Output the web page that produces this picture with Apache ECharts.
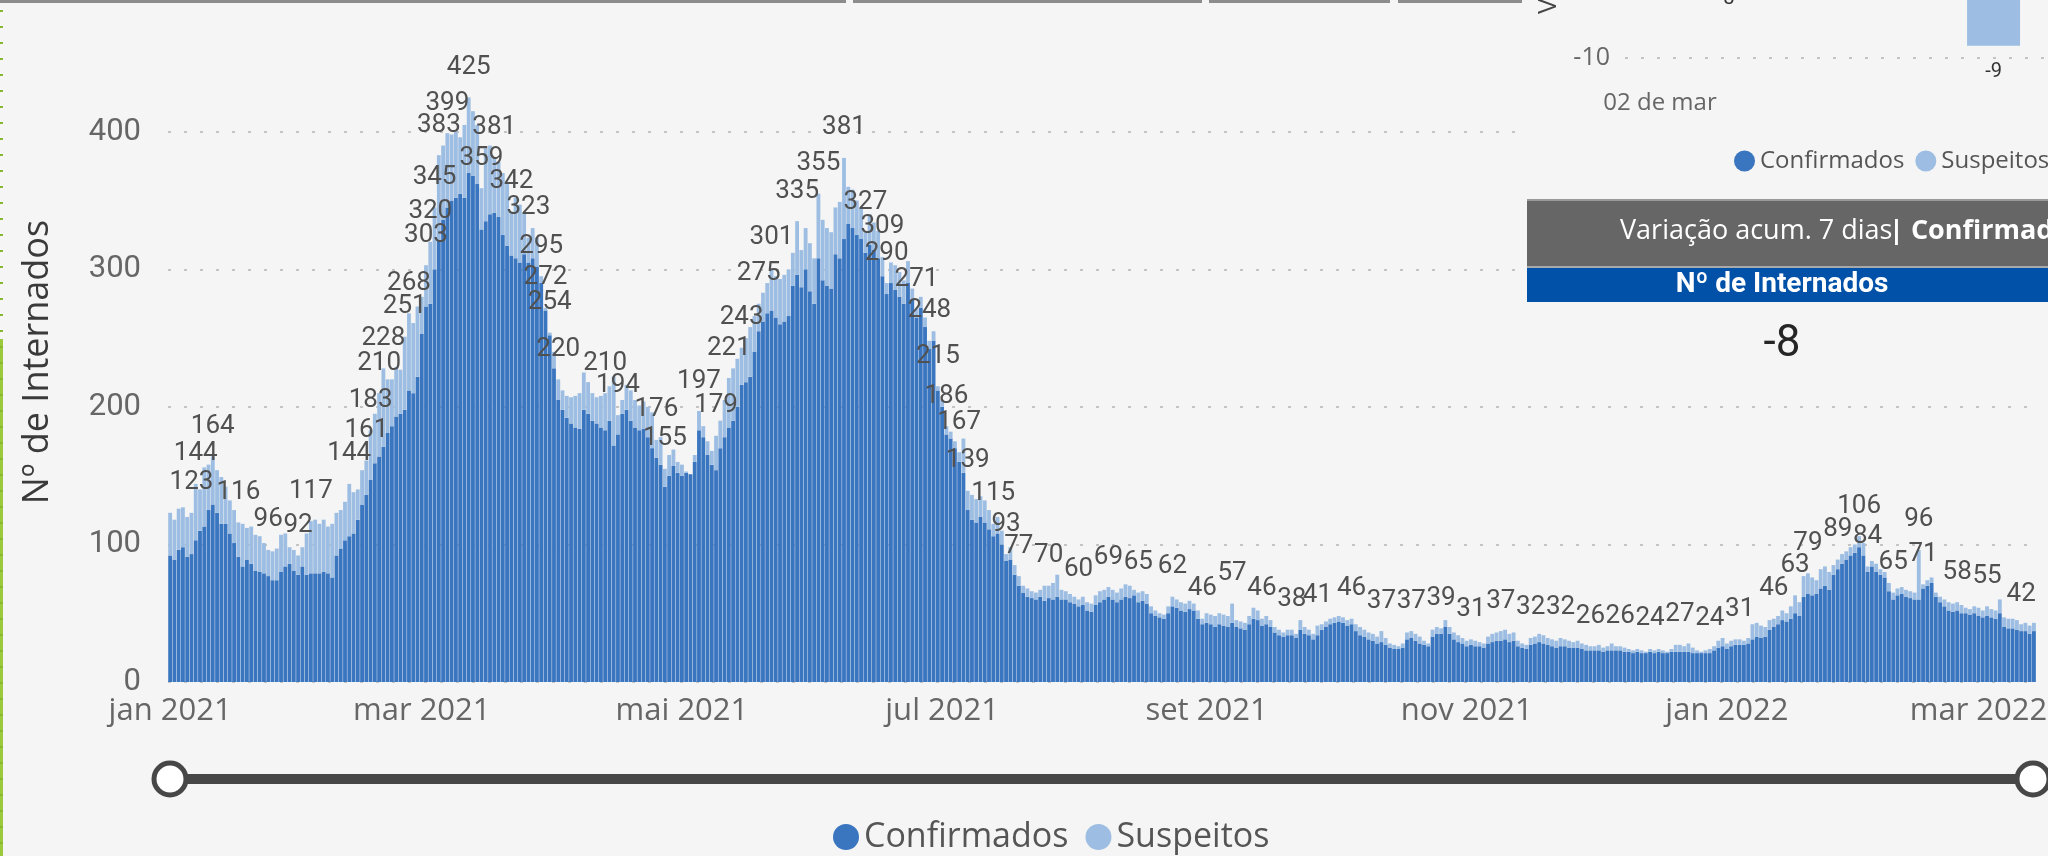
<!DOCTYPE html>
<html>
<head>
<meta charset="utf-8">
<script src="https://cdn.jsdelivr.net/npm/echarts@6.0.0/dist/echarts.min.js"></script>
<style>
  html, body { margin: 0; padding: 0; background: #f5f5f5; }
  #chart { width: 2048px; height: 856px; }
</style>
</head>
<body>
<div id="chart"></div>
<script>
// ---------------- DATA ----------------
const startDate = '2021-01-01';

// Total de internados por dia (Confirmados + Suspeitos)
const internados = [
  123,118,126,127,120,123,144,140,156,158,
  164,154,149,142,132,125,116,115,112,113,
  107,106,101,96,95,97,107,108,98,96,
  92,98,108,117,118,115,118,113,115,123,
  125,131,144,138,140,154,161,183,195,210,
  228,220,220,229,227,251,268,261,273,280,
  303,320,345,383,390,399,398,400,396,405,
  425,415,405,359,388,390,381,378,370,362,
  342,352,347,341,323,330,323,295,272,254,
  240,220,212,208,207,208,210,225,218,210,
  207,208,210,215,222,194,205,216,212,205,
  201,204,200,196,176,178,155,165,169,160,
  158,153,151,165,197,186,175,168,179,190,
  205,221,228,235,243,250,258,266,275,283,
  290,301,295,293,296,300,312,335,314,330,
  319,308,355,336,330,327,345,349,381,360,
  358,350,345,327,340,334,328,309,290,305,
  303,298,292,306,286,271,280,265,248,255,
  215,205,186,182,175,167,177,139,136,133,
  135,132,125,115,120,110,93,98,85,77,
  70,68,66,65,67,70,70,72,78,67,
  66,64,62,60,62,58,57,63,66,67,
  69,67,65,68,71,70,67,65,66,64,
  55,52,50,49,55,62,60,58,57,59,
  57,52,46,50,49,48,50,49,48,57,
  45,44,43,48,54,52,46,48,45,40,
  38,36,38,38,35,45,40,38,35,41,
  42,44,46,47,48,47,45,46,42,40,
  38,36,35,33,37,32,28,27,26,28,
  36,37,35,33,30,28,38,40,39,45,
  40,36,34,32,30,31,30,29,28,33,
  35,36,37,38,35,36,30,28,27,32,
  33,35,34,32,31,30,32,31,30,29,
  30,28,27,26,26,27,25,26,28,26,
  26,25,24,23,24,23,22,24,23,24,
  23,22,24,27,27,26,28,25,23,22,
  23,24,26,30,32,28,30,31,31,30,
  32,42,43,41,40,45,46,48,52,50,
  55,63,58,77,79,76,74,82,84,80,
  85,89,93,95,98,100,106,101,84,88,
  86,82,80,72,65,68,69,67,66,65,
  96,71,74,76,65,62,60,58,57,58,
  56,54,53,55,54,52,55,53,52,60,
  47,46,46,45,42,43,41,43
];

// Confirmados por dia
const confirmados = [
  92,89,96,98,91,93,103,110,113,125,
  129,123,115,115,108,101,91,84,89,86,
  81,80,79,77,74,74,80,84,86,81,
  78,84,78,79,79,79,80,79,76,92,
  97,103,106,108,118,129,136,147,159,164,
  171,181,186,193,195,198,212,210,222,253,
  273,275,300,321,336,345,350,352,355,352,
  370,368,362,329,335,340,341,338,325,317,
  310,308,305,311,305,308,302,290,270,252,
  228,205,198,192,188,185,184,198,195,190,
  188,185,183,190,172,180,195,198,190,185,
  183,184,178,170,163,158,142,150,157,152,
  150,152,151,160,183,178,165,158,154,170,
  178,185,190,200,216,218,222,240,255,262,
  268,270,265,260,262,266,288,296,287,300,
  284,275,308,292,288,286,311,308,322,333,
  330,325,322,312,318,314,308,295,282,290,
  285,280,275,290,278,265,272,258,242,248,
  212,200,180,177,170,160,152,125,118,116,
  120,116,111,106,108,100,88,89,78,70,
  65,62,61,60,62,59,61,60,62,60,
  60,58,57,55,56,52,51,56,58,60,
  62,60,58,60,62,61,63,58,59,57,
  50,48,47,46,50,55,54,52,51,53,
  52,46,42,43,42,40,42,41,40,43,
  40,39,38,42,46,45,41,42,40,36,
  34,33,34,34,32,38,35,34,31,34,
  38,40,42,43,44,43,41,42,37,34,
  33,31,30,28,29,27,25,24,24,25,
  31,32,30,28,27,26,33,35,35,40,
  35,31,29,28,26,27,26,26,25,28,
  29,30,30,31,29,30,26,25,24,27,
  28,29,28,27,26,25,26,26,25,25,
  25,24,23,23,23,23,22,23,23,23,
  23,22,22,21,22,21,21,22,21,22,
  21,21,22,22,22,22,22,21,21,21,
  21,21,23,25,26,24,26,27,27,27,
  28,31,33,32,33,38,40,42,45,44,
  46,50,48,62,64,63,64,68,70,67,
  78,82,86,89,92,94,98,92,80,84,
  80,78,76,66,60,63,64,62,61,60,
  60,68,70,72,62,58,55,52,51,52,
  50,50,49,50,48,47,48,47,46,50,
  40,39,39,38,37,37,35,37
];

// Dias (índice desde startDate) com rótulo de total visível
const labelDays = [5,6,10,16,23,30,33,42,46,47,49,50,55,56,60,61,62,63,65,70,73,76,80,84,87,88,89,91,
  102,105,114,116,124,128,131,134,138,141,147,152,158,163,167,168,175,178,180,182,185,187,193,196,199,
  206,213,220,227,235,242,249,256,263,269,277,284,291,298,305,312,319,326,333,340,347,354,361,368,
  376,381,384,391,396,398,404,410,411,419,426,434];

// Rótulos do eixo X
const tickDates  = ['2021-01-01','2021-03-01','2021-05-01','2021-07-01','2021-09-01','2021-11-01','2022-01-01','2022-03-01'];
const tickLabels = ['jan 2021','mar 2021','mai 2021','jul 2021','set 2021','nov 2021','jan 2022','mar 2022'];
const yTicks = { min: 0, max: 450, interval: 100 };

// Painel: variação acumulada 7 dias
const varCategories = ['02 de mar'];
const varConfirmados = [-3];
const varSuspeitos = [-9];
const varTotal = -8;
const seriesNames = ['Confirmados', 'Suspeitos'];

// ---------------- BUILD ----------------
const t0 = Date.UTC(2021, 0, 1);
const categories = internados.map((_, i) => new Date(t0 + i * 86400000).toISOString().slice(0, 10));
const suspeitos = internados.map((t, i) => Math.max(0, t - confirmados[i]));
const labelSet = new Set(labelDays);
const suspeitosData = suspeitos.map((v, i) => labelSet.has(i) ? { value: v, label: { show: true } } : v);

const C_DARK = '#3A75C0';
const C_LIGHT = '#9DBEE2';
const GRID_LEFT = 168, GRID_TOP = 63, GRID_H = 619, DAY_W = 4.265;

const chart = echarts.init(document.getElementById('chart'), null, { renderer: 'canvas' });

const option = {
  animation: false,
  backgroundColor: '#f5f5f5',
  grid: [
    { left: GRID_LEFT, top: GRID_TOP, width: DAY_W * internados.length, height: GRID_H, outerBoundsMode: 'none', containLabel: false },
    { left: 1625, top: -64, width: 470, height: 122, outerBoundsMode: 'none', containLabel: false }
  ],
  xAxis: [
    {
      type: 'category', gridIndex: 0, data: categories, boundaryGap: true,
      axisLine: { show: false }, axisTick: { show: false },
      axisLabel: {
        interval: (idx, val) => tickDates.indexOf(val) >= 0,
        formatter: (val) => { const k = tickDates.indexOf(val); return k >= 0 ? tickLabels[k] : ''; },
        fontFamily: 'Open Sans', fontSize: 31, color: '#666666', margin: 14
      },
      splitLine: { show: false }
    },
    {
      type: 'category', gridIndex: 1, data: varCategories, z: 60,
      axisLine: { show: false }, axisTick: { show: false }, axisLabel: { show: false }
    }
  ],
  yAxis: [
    {
      type: 'value', gridIndex: 0, min: yTicks.min, max: yTicks.max, interval: yTicks.interval,
      axisLine: { show: false }, axisTick: { show: false },
      axisLabel: { fontFamily: 'Roboto', fontSize: 31, color: '#666666', margin: 27, showMaxLabel: false },
      splitLine: { show: true, showMaxLine: false, lineStyle: { type: [3, 13], color: '#c4c4c4', width: 2 } }
    },
    {
      type: 'value', gridIndex: 1, min: -10, max: 0, interval: 10, z: 60,
      axisLine: { show: false }, axisTick: { show: false },
      axisLabel: { fontFamily: 'Open Sans', fontSize: 25, color: '#666666', margin: 15,
        formatter: (v) => v === -10 ? '-10' : '' },
      splitLine: { show: true, lineStyle: { type: [3, 13], color: '#c4c4c4', width: 2 } }
    }
  ],
  legend: [
    {
      data: seriesNames, left: 833, top: 820, padding: 0, itemGap: 17, orient: 'horizontal', width: 700,
      itemWidth: 26, itemHeight: 26, icon: 'circle',
      textStyle: { fontFamily: 'Open Sans', fontSize: 34, color: '#555555' }
    },
    {
      data: seriesNames, left: 1734, top: 149, padding: 0, itemGap: 11, z: 60, orient: 'horizontal', width: 600,
      itemWidth: 21, itemHeight: 21, icon: 'circle',
      textStyle: { fontFamily: 'Open Sans', fontSize: 24, color: '#555555' }
    }
  ],
  series: [
    {
      name: seriesNames[0], type: 'bar', stack: 'tot', xAxisIndex: 0, yAxisIndex: 0,
      data: confirmados, barCategoryGap: '10%', itemStyle: { color: C_DARK }, silent: true
    },
    {
      name: seriesNames[1], type: 'bar', stack: 'tot', xAxisIndex: 0, yAxisIndex: 0,
      data: suspeitosData, barCategoryGap: '10%', itemStyle: { color: C_LIGHT }, silent: true,
      label: {
        show: false, position: 'top', distance: 17,
        formatter: (p) => String(internados[p.dataIndex]),
        fontFamily: 'Roboto', fontSize: 26, color: '#505050'
      },
      labelLayout: { hideOverlap: false }
    },
    {
      name: seriesNames[0], type: 'bar', xAxisIndex: 1, yAxisIndex: 1, z: 60,
      data: varConfirmados, barWidth: 53, barGap: '404%', itemStyle: { color: C_DARK },
      label: { show: true, position: 'bottom', distance: 16, fontFamily: 'Roboto', fontSize: 20, color: '#333333' }
    },
    {
      name: seriesNames[1], type: 'bar', xAxisIndex: 1, yAxisIndex: 1, z: 60,
      data: varSuspeitos, barWidth: 53, barGap: '404%', itemStyle: { color: C_LIGHT },
      label: { show: true, position: 'bottom', distance: 16, fontFamily: 'Roboto', fontSize: 20, color: '#333333' }
    }
  ],
  graphic: { elements: [
    // top tab borders
    { type: 'rect', shape: { x: 0, y: 0, width: 846, height: 3 }, style: { fill: '#8c8c8c' }, z: 40 },
    { type: 'rect', shape: { x: 853, y: 0, width: 349, height: 3 }, style: { fill: '#8c8c8c' }, z: 40 },
    { type: 'rect', shape: { x: 1209, y: 0, width: 181, height: 3 }, style: { fill: '#8c8c8c' }, z: 40 },
    { type: 'rect', shape: { x: 1398, y: 0, width: 129, height: 3 }, style: { fill: '#8c8c8c' }, z: 40 },
    // left green border
    { type: 'rect', shape: { x: 0, y: 339, width: 3, height: 517 }, style: { fill: '#9BCB3C' }, z: 40 },
    { type: 'line', shape: { x1: 1.5, y1: 10, x2: 1.5, y2: 856 }, style: { stroke: '#86B832', lineWidth: 3, lineDash: [2, 14] }, z: 41 },
    // y axis title
    { type: 'text', x: 38, y: 362, rotation: Math.PI / 2, z: 40,
      style: { text: 'Nº de Internados', font: '36px "Open Sans"', fill: '#3a3a3a', textAlign: 'center', textVerticalAlign: 'middle', align: 'center', verticalAlign: 'middle' } },
    // range slider
    { type: 'line', shape: { x1: 170, y1: 779, x2: 2033, y2: 779 }, style: { stroke: '#474747', lineWidth: 10 }, z: 40 },
    { type: 'circle', shape: { cx: 170, cy: 779, r: 16 }, style: { fill: '#ffffff', stroke: '#474747', lineWidth: 5 }, z: 41 },
    { type: 'circle', shape: { cx: 2033, cy: 779, r: 16 }, style: { fill: '#ffffff', stroke: '#474747', lineWidth: 5 }, z: 41 },
    // right panel cover
    { type: 'rect', shape: { x: 1522, y: 0, width: 526, height: 385 }, style: { fill: '#f5f5f5' }, z: 50 },
    { type: 'text', x: 1549, y: 14, rotation: Math.PI / 2, z: 70,
      style: { text: 'Variação acum. 7 dias', font: '26px "Open Sans"', fill: '#444444', textAlign: 'left', textVerticalAlign: 'middle', align: 'left', verticalAlign: 'middle' } },
    { type: 'text', x: 1660, y: 103, z: 70,
      style: { text: varCategories[0], font: '24px "Open Sans"', fill: '#666666', textAlign: 'center', textVerticalAlign: 'middle', align: 'center', verticalAlign: 'middle' } },
    { type: 'rect', shape: { x: 1527, y: 200, width: 521, height: 67 }, style: { fill: '#666666' }, z: 70 },
    { type: 'rect', shape: { x: 1527, y: 199, width: 521, height: 2 }, style: { fill: '#9a9a9a' }, z: 71 },
    { type: 'rect', shape: { x: 1527, y: 268, width: 521, height: 34 }, style: { fill: '#0151A8' }, z: 70 },
    { type: 'rect', shape: { x: 1527, y: 266, width: 521, height: 2 }, style: { fill: '#a8a8a8' }, z: 71 },
    { type: 'text', x: 1620, y: 231, z: 72,
      style: { text: 'Variação acum. 7 dias', font: '27px "Open Sans"', fill: '#ffffff', textAlign: 'left', textVerticalAlign: 'middle', align: 'left', verticalAlign: 'middle' } },
    { type: 'text', x: 1889, y: 231, z: 72,
      style: { text: '| Confirmados', font: 'bold 27px "Open Sans"', fill: '#ffffff', textAlign: 'left', textVerticalAlign: 'middle', align: 'left', verticalAlign: 'middle' } },
    { type: 'text', x: 1782, y: 285, z: 72,
      style: { text: 'Nº de Internados', font: 'bold 28px Roboto', fill: '#ffffff', textAlign: 'center', textVerticalAlign: 'middle', align: 'center', verticalAlign: 'middle' } },
    { type: 'text', x: 1782, y: 345, z: 72,
      style: { text: String(varTotal), font: '44px Roboto', fill: '#252525', textAlign: 'center', textVerticalAlign: 'middle', align: 'center', verticalAlign: 'middle' } }
  ] }
};

chart.setOption(option);
</script>
</body>
</html>
